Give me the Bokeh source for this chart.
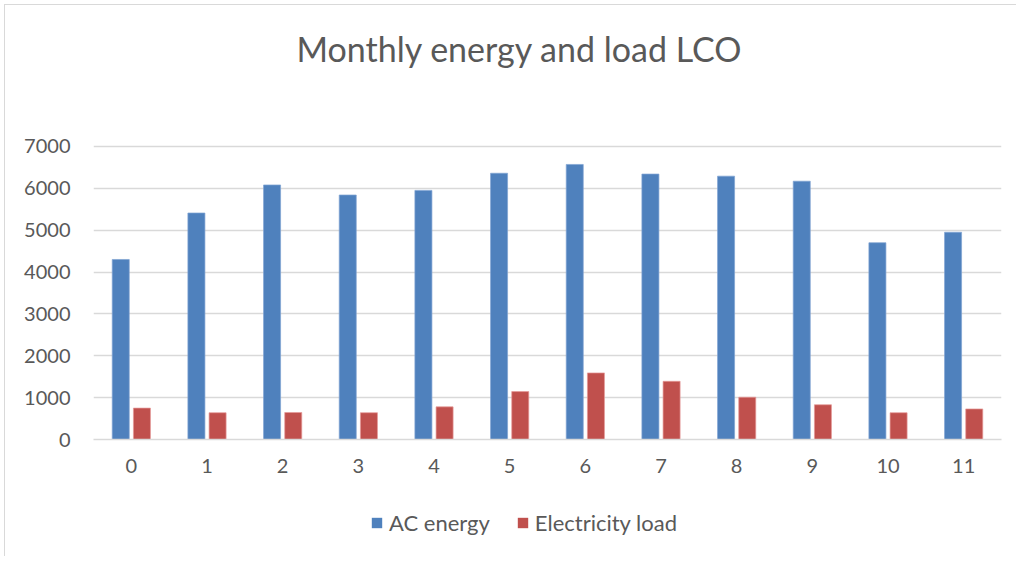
from bokeh.plotting import figure
from bokeh.layouts import column
from bokeh.models import Legend, LegendItem, FixedTicker, Range1d, ColumnDataSource
from bokeh.embed import file_html
from bokeh.resources import INLINE

months = [0, 1, 2, 3, 4, 5, 6, 7, 8, 9, 10, 11]
ac_energy = [4300, 5410, 6080, 5840, 5950, 6360, 6570, 6340, 6290, 6170, 4700, 4950]
elec_load = [750, 640, 645, 640, 780, 1145, 1590, 1390, 1010, 830, 640, 730]
y_ticks = [0, 1000, 2000, 3000, 4000, 5000, 6000, 7000]

TXT = "#595959"
GRID = "#d9d9d9"
FONT = "Lato"
BLUE = "#4F81BD"
RED = "#C0504D"

# frame extends above the 7000 gridline to leave room for the title
p = figure(width=1012, height=496, output_backend="svg", toolbar_location=None,
           x_range=Range1d(-0.5, 11.5), y_range=Range1d(0, 8384),
           min_border_left=88, min_border_right=16, min_border_top=83, min_border_bottom=62,
           title="Monthly energy and load LCO",
           styles={"border-left": "1px solid #d9d9d9", "border-top": "1px solid #d9d9d9"})
p.outline_line_color = None

p.title.align = "left"
p.title.offset = 203
p.title.text_font = FONT
p.title.text_font_size = "34px"
p.title.text_font_style = "normal"
p.title.text_color = TXT
p.title.standoff = 40

src = ColumnDataSource(dict(
    xa=[m - 0.14 for m in months], xb=[m + 0.14 for m in months],
    ac=ac_energy, el=elec_load))

r1 = p.vbar(x="xa", top="ac", width=0.225, source=src, fill_color=BLUE, line_color="#7fa3d3", line_width=0.7)
r2 = p.vbar(x="xb", top="el", width=0.225, source=src, fill_color=RED, line_color="#e59a98", line_width=0.7)

p.xaxis.ticker = FixedTicker(ticks=months)
p.xaxis.axis_line_color = GRID
p.xaxis.axis_line_width = 1.5
p.xaxis.major_tick_line_color = None
p.xaxis.minor_tick_line_color = None
p.xaxis.major_tick_out = 0
p.xaxis.major_label_text_font = FONT
p.xaxis.major_label_text_font_size = "20px"
p.xaxis.major_label_text_color = TXT
p.xaxis.major_label_standoff = 19

p.yaxis.ticker = FixedTicker(ticks=y_ticks)
p.yaxis.axis_line_color = None
p.yaxis.major_tick_line_color = None
p.yaxis.minor_tick_line_color = None
p.yaxis.major_tick_out = 0
p.yaxis.major_label_text_font = FONT
p.yaxis.major_label_text_font_size = "20px"
p.yaxis.major_label_text_color = TXT
p.yaxis.major_label_standoff = 23

p.xgrid.grid_line_color = None
p.ygrid.grid_line_color = GRID
p.ygrid.grid_line_width = 1.5

# separate strip for the legend below the chart (its frame aligns with the chart's)
lg = figure(width=1012, height=56, output_backend="svg", toolbar_location=None,
            x_range=Range1d(0, 1), y_range=Range1d(0, 1),
            x_axis_type=None, y_axis_type=None,
            min_border_left=0, min_border_right=0, min_border_top=0, min_border_bottom=0,
            styles={"border-left": "1px solid #d9d9d9"})
lg.outline_line_color = None
lg.xgrid.visible = False
lg.ygrid.visible = False
swatch = ColumnDataSource(dict(x=[-5], top=[0]))
d1 = lg.vbar(x="x", top="top", width=0.1, source=swatch, fill_color=BLUE, line_color=None)
d2 = lg.vbar(x="x", top="top", width=0.1, source=swatch, fill_color=RED, line_color=None)

legend = Legend(items=[LegendItem(label="AC energy", renderers=[d1]),
                       LegendItem(label="Electricity load", renderers=[d2])],
                orientation="horizontal", location=(277, 20))
legend.label_text_font = FONT
legend.label_text_font_size = "22px"
legend.label_text_color = TXT
legend.glyph_width = 13
legend.glyph_height = 13
legend.spacing = 26
legend.label_standoff = 6
legend.border_line_color = None
legend.background_fill_alpha = 0
legend.margin = 0
legend.padding = 0
lg.add_layout(legend)

layout = column(p, lg, spacing=0, styles={"margin-left": "4px", "margin-top": "4px"})
open("out.html", "w").write(file_html(layout, INLINE))
